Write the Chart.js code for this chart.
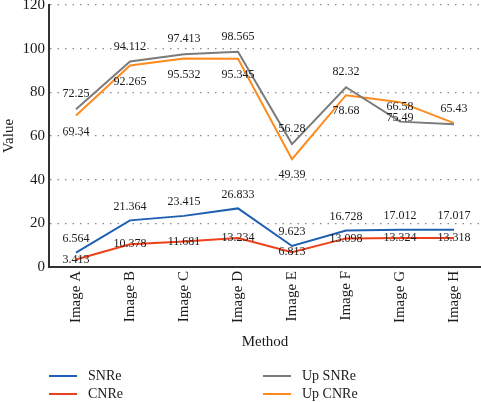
<!DOCTYPE html>
<html>
<head>
<meta charset="utf-8">
<script src="https://cdn.jsdelivr.net/npm/chart.js@4/dist/chart.umd.min.js"></script>
<style>
html,body{margin:0;padding:0;background:#fff;}
#wrap{position:relative;width:481px;height:402px;}
</style>
</head>
<body>
<div id="wrap"><canvas id="c" width="481" height="402"></canvas></div>
<script>
const categories = ['Image A','Image B','Image C','Image D','Image E','Image F','Image G','Image H'];
const snre   = [6.564, 21.364, 23.415, 26.833, 9.623, 16.728, 17.012, 17.017];
const cnre   = [3.413, 10.378, 11.681, 13.234, 6.813, 13.098, 13.324, 13.318];
const upSnre = [72.25, 94.112, 97.413, 98.565, 56.28, 82.32, 66.58, 65.43];
const upCnre = [69.34, 92.265, 95.532, 95.345, 49.39, 78.68, 75.49, 65.9];
const upCnreHiddenLabels = [7];
const yTicks = [0, 20, 40, 60, 80, 100, 120];

const SERIF = '"Liberation Serif", "DejaVu Serif", serif';

const datasets = [
  {label:'SNRe', data:snre, borderColor:'#1f5fb0', labelOffset:-14, hidden_labels:[]},
  {label:'CNRe', data:cnre, borderColor:'#f0401a', labelOffset:0, hidden_labels:[]},
  {label:'Up SNRe', data:upSnre, borderColor:'#7b7b7b', labelOffset:-15, hidden_labels:[]},
  {label:'Up CNRe', data:upCnre, borderColor:'#ff8a1e', labelOffset:16, hidden_labels:upCnreHiddenLabels}
].map(d => Object.assign({
  borderWidth:2, pointRadius:0, pointHoverRadius:0, tension:0, fill:false,
  backgroundColor:d.borderColor
}, d));

const valueLabels = {
  id:'valueLabels',
  afterDatasetsDraw(chart){
    const ctx = chart.ctx;
    ctx.save();
    ctx.font = '12px ' + SERIF;
    ctx.fillStyle = '#1a1a1a';
    ctx.textAlign = 'center';
    ctx.textBaseline = 'middle';
    chart.data.datasets.forEach((ds, i) => {
      const meta = chart.getDatasetMeta(i);
      meta.data.forEach((pt, j) => {
        if (ds.hidden_labels.includes(j)) return;
        ctx.fillText(String(ds.data[j]), pt.x, pt.y + ds.labelOffset);
      });
    });
    ctx.restore();
  }
};

const customLegend = {
  id:'customLegend',
  afterDraw(chart){
    const ctx = chart.ctx;
    ctx.save();
    ctx.font = '14px ' + SERIF;
    ctx.textBaseline = 'middle';
    ctx.textAlign = 'left';
    const cols = [49, 263];
    const rows = [376, 394];
    chart.data.datasets.forEach((ds, i) => {
      const col = i < 2 ? 0 : 1;
      const row = i % 2;
      const x = cols[col], y = rows[row];
      ctx.strokeStyle = ds.borderColor;
      ctx.lineWidth = 2;
      ctx.beginPath();
      ctx.moveTo(x, y);
      ctx.lineTo(x + 28, y);
      ctx.stroke();
      ctx.fillStyle = '#1a1a1a';
      ctx.fillText(ds.label, x + 39, y);
    });
    ctx.restore();
  }
};

new Chart(document.getElementById('c'), {
  type:'line',
  data:{labels:categories, datasets:datasets},
  options:{
    responsive:false,
    animation:false,
    layout:{padding:{top:5, right:0, left:0, bottom:51}},
    plugins:{legend:{display:false}, tooltip:{enabled:false}},
    scales:{
      x:{
        offset:true,
        grid:{display:false, drawTicks:false},
        border:{display:true, color:'#333', width:2},
        ticks:{color:'#1a1a1a', font:{family:SERIF, size:15}, minRotation:90, maxRotation:90, padding:4},
        title:{display:true, text:'Method', color:'#1a1a1a', font:{family:SERIF, size:15}, padding:{top:4,bottom:0}},
        afterFit(s){ s.height = 84; s.paddingLeft = 0; s.paddingRight = 0; }
      },
      y:{
        min:0, max:120,
        afterBuildTicks(s){ s.ticks = yTicks.map(v => ({value:v})); },
        grid:{color:'#8a8a8a', lineWidth:1.2, drawTicks:false},
        border:{display:true, color:'#333', width:2, dash:[1.5,6]},
        ticks:{color:'#1a1a1a', font:{family:SERIF, size:15}, padding:4},
        title:{display:true, text:'Value', color:'#1a1a1a', font:{family:SERIF, size:15}, padding:{top:0,bottom:2}},
        afterFit(s){ s.width = 49; s.paddingTop = 0; s.paddingBottom = 0; }
      }
    }
  },
  plugins:[valueLabels, customLegend]
});
</script>
</body>
</html>
